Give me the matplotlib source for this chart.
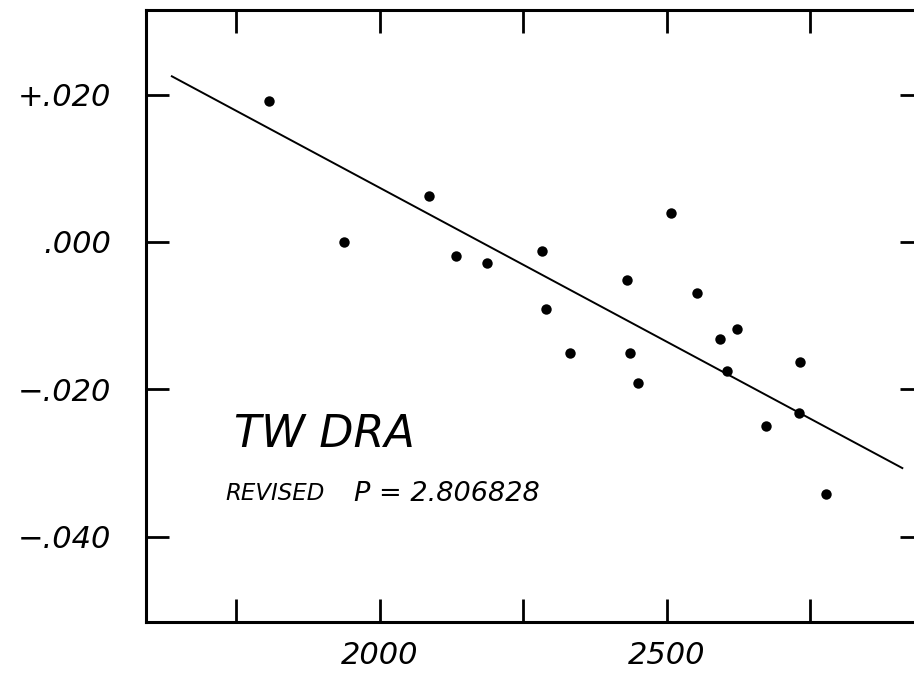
import matplotlib
matplotlib.use("Agg")
import matplotlib.pyplot as plt

# observations for TW Dra
epoch = [1807, 1937, 2085, 2132, 2186, 2282, 2289, 2332, 2430, 2436,
         2450, 2508, 2553, 2593, 2605, 2622, 2673, 2732, 2730, 2777]
resid = [0.0191, 0.0000, 0.0062, -0.0019, -0.0029, -0.0012, -0.0091, -0.0151, -0.0052, -0.0151,
         -0.0192, 0.0039, -0.0069, -0.0132, -0.0175, -0.0118, -0.0250, -0.0163, -0.0232, -0.0342]

# fitted line end points
fit_x = [1638, 2910]
fit_y = [0.0225, -0.0307]

xticks = [1750, 2000, 2250, 2500, 2750]
xlabels = ["", "2000", "", "2500", ""]
yticks = [0.020, 0.000, -0.020, -0.040]
ylabels = ["+.020", ".000", "\u2212.020", "\u2212.040"]

plt.rcParams['font.family'] = ['DejaVu Sans']

fig = plt.figure(figsize=(9.14, 6.75), dpi=100)
ax = fig.add_axes([146/914, 53/675, 777/914, 612/675])

ax.plot(fit_x, fit_y, color="black", lw=1.4)
ax.plot(epoch, resid, "o", color="black", ms=7.5, mew=0)

ax.set_xlim(1593, 2946)
ax.set_ylim(-0.0516, 0.0315)

for s in ax.spines.values():
    s.set_linewidth(2.2)
# right frame edge falls off the page
ax.spines["right"].set_visible(False)

ax.set_xticks(xticks)
ax.set_xticklabels(xlabels, fontsize=22, style="italic")
ax.set_yticks(yticks)
ax.set_yticklabels(ylabels, fontsize=22, style="italic")
ax.tick_params(axis="both", direction="in", length=16.5, width=2.0,
               top=True, right=True)
ax.tick_params(axis="x", pad=14)
ax.tick_params(axis="y", pad=25)

ax.text(1746, -0.0262, "TW DRA", fontsize=32, style="italic", va="center", ha="left")
ax.text(1732, -0.0342, "REVISED", fontsize=16.5, style="italic", va="center", ha="left")
ax.text(1955, -0.0342, "P = 2.806828", fontsize=19.5, style="italic", va="center", ha="left")

fig.savefig("out.png", dpi=100)
